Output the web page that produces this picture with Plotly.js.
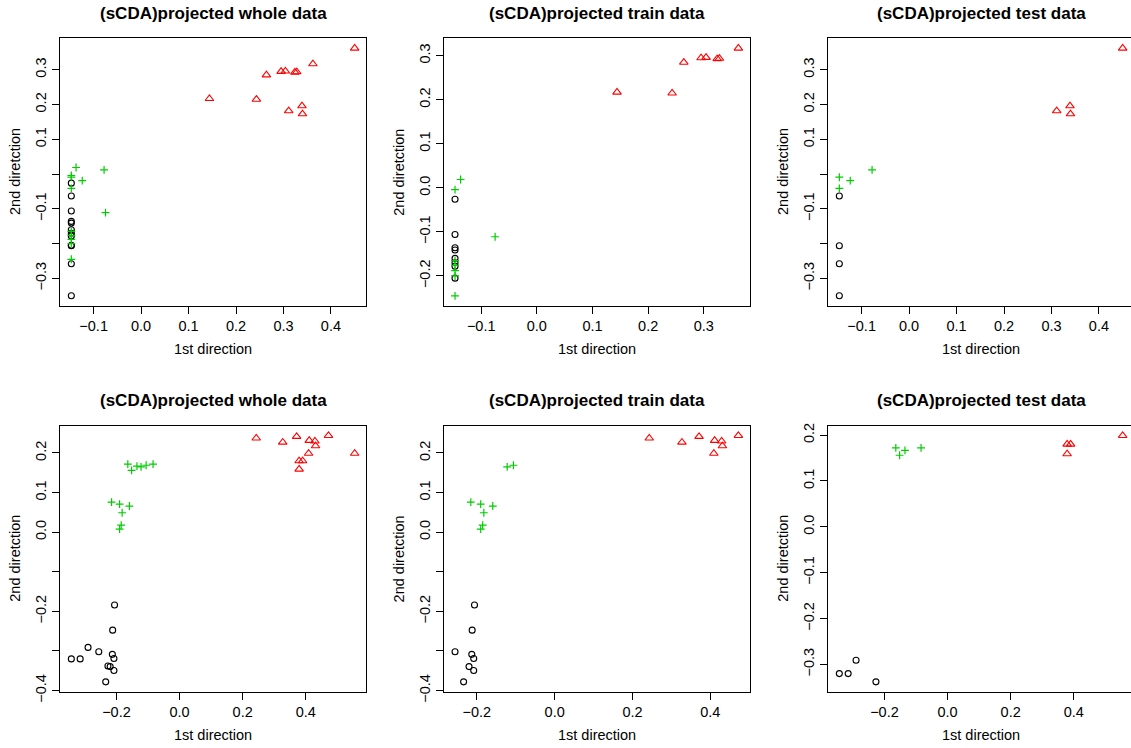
<!DOCTYPE html>
<html><head><meta charset="utf-8">
<script src="https://cdn.plot.ly/plotly-3.0.1.min.js"></script>
<style>html,body{margin:0;padding:0;background:#fff}#chart{width:1131px;height:748px}</style>
</head><body><div id="chart"></div>
<script>
// ---------- Top row (set A) ----------
const trainA_redX   = [0.144, 0.243, 0.264, 0.295, 0.304, 0.324, 0.328, 0.362];
const trainA_redY   = [0.217, 0.215, 0.285, 0.295, 0.296, 0.293, 0.294, 0.317];
const trainA_greenX = [-0.137, -0.147, -0.075, -0.147, -0.147, -0.147, -0.147, -0.147];
const trainA_greenY = [0.019, -0.004, -0.111, -0.165, -0.176, -0.188, -0.200, -0.245];
const trainA_blackX = [-0.147, -0.147, -0.147, -0.147, -0.147, -0.147, -0.147, -0.147];
const trainA_blackY = [-0.026, -0.106, -0.136, -0.141, -0.160, -0.170, -0.178, -0.205];
const testA_redX    = [0.311, 0.339, 0.340, 0.450];
const testA_redY    = [0.182, 0.196, 0.173, 0.362];
const testA_greenX  = [-0.078, -0.147, -0.124, -0.147];
const testA_greenY  = [0.012, -0.009, -0.019, -0.041];
const testA_blackX  = [-0.147, -0.147, -0.147, -0.147];
const testA_blackY  = [-0.063, -0.206, -0.258, -0.350];

// ---------- Bottom row (set B) ----------
const trainB_redX   = [0.243, 0.327, 0.371, 0.411, 0.429, 0.431, 0.472, 0.409];
const trainB_redY   = [0.2375, 0.227, 0.2415, 0.2315, 0.230, 0.218, 0.244, 0.199];
const trainB_greenX = [-0.122, -0.106, -0.2155, -0.190, -0.182, -0.159, -0.185, -0.190];
const trainB_greenY = [0.165, 0.169, 0.076, 0.071, 0.049, 0.066, 0.0176, 0.0075];
const trainB_blackX = [-0.206, -0.212, -0.256, -0.213, -0.208, -0.220, -0.208, -0.234];
const trainB_blackY = [-0.184, -0.2475, -0.302, -0.3085, -0.319, -0.3395, -0.3495, -0.378];
const testB_redX    = [0.379, 0.390, 0.379, 0.555];
const testB_redY    = [0.180, 0.180, 0.159, 0.199];
const testB_greenX  = [-0.164, -0.135, -0.152, -0.084];
const testB_greenY  = [0.172, 0.1667, 0.156, 0.172];
const testB_blackX  = [-0.343, -0.315, -0.290, -0.227];
const testB_blackY  = [-0.320, -0.320, -0.291, -0.338];

// ---------- Tick values and labels ----------
const topXTicks  = [-0.1, 0.0, 0.1, 0.2, 0.3, 0.4];
const topXLabels = ['\u22120.1', '0.0', '0.1', '0.2', '0.3', '0.4'];
const topYTicks  = [-0.3, -0.2, -0.1, 0.0, 0.1, 0.2, 0.3];
const topYLabelsWhole = ['\u22120.3', '', '\u22120.1', '', '0.1', '0.2', '0.3'];
const topYLabelsTrain = ['\u22120.3', '\u22120.2', '\u22120.1', '0.0', '0.1', '0.2', '0.3'];
const topYLabelsTest  = ['\u22120.3', '', '\u22120.1', '', '0.1', '0.2', '0.3'];
const botXTicks  = [-0.4, -0.2, 0.0, 0.2, 0.4];
const botXLabels = ['\u22120.4', '\u22120.2', '0.0', '0.2', '0.4'];
const botYTicks  = [-0.4, -0.3, -0.2, -0.1, 0.0, 0.1, 0.2];
const botYLabelsWhole = ['\u22120.4', '', '\u22120.2', '', '0.0', '0.1', '0.2'];
const botYLabelsTrain = ['\u22120.4', '', '\u22120.2', '', '0.0', '0.1', '0.2'];
const botYLabelsTest  = ['\u22120.4', '\u22120.3', '\u22120.2', '\u22120.1', '0.0', '0.1', '0.2'];

const titleWhole = '(sCDA)projected whole data';
const titleTrain = '(sCDA)projected train data';
const titleTest  = '(sCDA)projected test data';
const xLabel = '1st direction';
const yLabel = '2nd diretction';

// ---------- build ----------
const W = 1131, H = 748;
const FONT = 'Liberation Sans, Arial, Helvetica, sans-serif';
const colLeft = [60, 443.7, 828];
const boxW = 306;
const rowBox = [{top: 38.3, bottom: 305.7}, {top: 425.7, bottom: 691.7}];

function grp(rx, ry, gx, gy, bx, by) { return {rx, ry, gx, gy, bx, by}; }
function cat(a, b) { return grp(a.rx.concat(b.rx), a.ry.concat(b.ry), a.gx.concat(b.gx), a.gy.concat(b.gy), a.bx.concat(b.bx), a.by.concat(b.by)); }

const trainA = grp(trainA_redX, trainA_redY, trainA_greenX, trainA_greenY, trainA_blackX, trainA_blackY);
const testA  = grp(testA_redX, testA_redY, testA_greenX, testA_greenY, testA_blackX, testA_blackY);
const trainB = grp(trainB_redX, trainB_redY, trainB_greenX, trainB_greenY, trainB_blackX, trainB_blackY);
const testB  = grp(testB_redX, testB_redY, testB_greenX, testB_greenY, testB_blackX, testB_blackY);
const wholeA = cat(trainA, testA);
const wholeB = cat(trainB, testB);

const panels = [
  {d: wholeA, title: titleWhole, row: 0, col: 0, xt: topXTicks, xl: topXLabels, yt: topYTicks, yl: topYLabelsWhole},
  {d: trainA, title: titleTrain, row: 0, col: 1, xt: topXTicks, xl: topXLabels, yt: topYTicks, yl: topYLabelsTrain},
  {d: testA,  title: titleTest,  row: 0, col: 2, xt: topXTicks, xl: topXLabels, yt: topYTicks, yl: topYLabelsTest},
  {d: wholeB, title: titleWhole, row: 1, col: 0, xt: botXTicks, xl: botXLabels, yt: botYTicks, yl: botYLabelsWhole},
  {d: trainB, title: titleTrain, row: 1, col: 1, xt: botXTicks, xl: botXLabels, yt: botYTicks, yl: botYLabelsTrain},
  {d: testB,  title: titleTest,  row: 1, col: 2, xt: botXTicks, xl: botXLabels, yt: botYTicks, yl: botYLabelsTest}
];

function rRange(arr) {
  const mn = Math.min.apply(null, arr), mx = Math.max.apply(null, arr);
  const p = (mx - mn) * 0.04;
  return [mn - p, mx + p];
}

const traces = [];
const layout = {
  width: W, height: H,
  margin: {l: 0, r: 0, t: 0, b: 0},
  paper_bgcolor: '#fff', plot_bgcolor: '#fff',
  showlegend: false,
  font: {family: FONT, size: 14.5, color: '#000'},
  annotations: []
};

panels.forEach((p, i) => {
  const n = i + 1;
  const xa = 'x' + (n === 1 ? '' : n), ya = 'y' + (n === 1 ? '' : n);
  const xk = 'xaxis' + (n === 1 ? '' : n), yk = 'yaxis' + (n === 1 ? '' : n);
  const d = p.d;
  let xr = rRange(d.rx.concat(d.gx, d.bx));
  const yr = rRange(d.ry.concat(d.gy, d.by));
  const left = colLeft[p.col];
  let right = left + boxW;
  if (right > W) {
    const frac = (W - left) / boxW;
    xr = [xr[0], xr[0] + (xr[1] - xr[0]) * frac];
    right = W;
  }
  const box = rowBox[p.row];
  const common = {
    showgrid: false, zeroline: false, showline: true, mirror: true,
    linecolor: '#000', linewidth: 1, ticks: 'outside', ticklen: 7, tickwidth: 1, tickcolor: '#000',
    tickfont: {family: FONT, size: 14.5, color: '#000'}, tickmode: 'array', fixedrange: true
  };
  layout[xk] = Object.assign({}, common, {
    domain: [left / W, right / W], range: xr, anchor: ya,
    tickvals: p.xt, ticktext: p.xl
  });
  layout[yk] = Object.assign({}, common, {
    domain: [1 - box.bottom / H, 1 - box.top / H], range: yr, anchor: xa,
    tickvals: p.yt, ticktext: p.yl, tickangle: -90
  });
  traces.push({
    type: 'scatter', mode: 'markers', x: d.bx, y: d.by, xaxis: xa, yaxis: ya, cliponaxis: false,
    marker: {symbol: 'circle-open', size: 6, color: '#000', line: {width: 1.1, color: '#000'}}, hoverinfo: 'x+y'
  });
  traces.push({
    type: 'scatter', mode: 'markers', x: d.rx, y: d.ry, xaxis: xa, yaxis: ya, cliponaxis: false,
    marker: {symbol: 'triangle-up-open', size: 7.5, color: '#FF0000', line: {width: 1.1, color: '#FF0000'}}, hoverinfo: 'x+y'
  });
  traces.push({
    type: 'scatter', mode: 'markers', x: d.gx, y: d.gy, xaxis: xa, yaxis: ya, cliponaxis: false,
    marker: {symbol: 'cross-thin-open', size: 5.6, color: '#00CD00', line: {width: 1.2, color: '#00CD00'}}, hoverinfo: 'x+y'
  });
  const cx = (left + left + boxW) / 2;
  const cy = (box.top + box.bottom) / 2;
  layout.annotations.push({
    text: '<b>' + p.title + '</b>', xref: 'paper', yref: 'paper',
    x: cx / W, y: 1 - (box.top - 25) / H, xanchor: 'center', yanchor: 'middle',
    showarrow: false, font: {family: FONT, size: 17, color: '#000'}
  });
  layout.annotations.push({
    text: xLabel, xref: 'paper', yref: 'paper',
    x: cx / W, y: 1 - (box.bottom + 43.5) / H, xanchor: 'center', yanchor: 'middle',
    showarrow: false, font: {family: FONT, size: 14.5, color: '#000'}
  });
  layout.annotations.push({
    text: yLabel, xref: 'paper', yref: 'paper', textangle: -90,
    x: (left - 45) / W, y: 1 - cy / H, xanchor: 'center', yanchor: 'middle',
    showarrow: false, font: {family: FONT, size: 14.5, color: '#000'}
  });
});

Plotly.newPlot('chart', traces, layout, {staticPlot: true, displayModeBar: false});
</script>
</body></html>
